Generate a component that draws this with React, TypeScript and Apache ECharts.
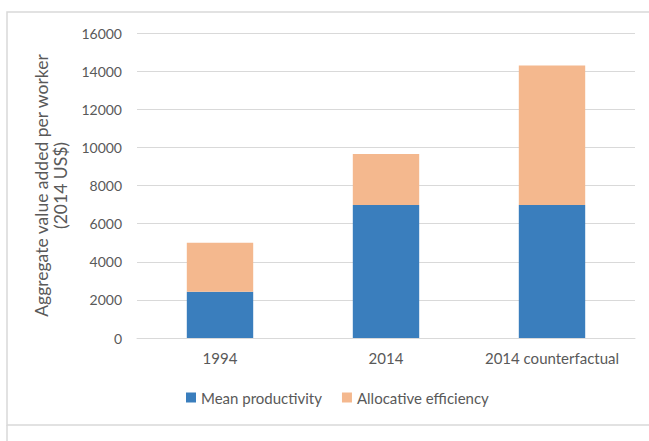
import React, { useEffect, useRef } from "react";
import * as echarts from "echarts";

const categories = ["1994", "2014", "2014 counterfactual"];
const meanProductivity = [2430, 6980, 6980];
const allocativeEfficiency = [2570, 2670, 7320];
const yTicks = { min: 0, max: 16000, interval: 2000 };

const FONT = "Lato, 'Open Sans', sans-serif";
const TXT = "#595959";

export default function App() {
  const ref = useRef<HTMLDivElement>(null);
  useEffect(() => {
    const chart = echarts.init(ref.current!, undefined, { renderer: "svg" });
    chart.setOption({
      animation: false,
      backgroundColor: "#ffffff",
      textStyle: { fontFamily: FONT },
      graphic: [
        {
          type: "rect",
          shape: { x: 7, y: 12, width: 700, height: 413 },
          style: { fill: "none", stroke: "#d9d9d9", lineWidth: 1.5 },
          silent: true,
        },
        {
          type: "line",
          shape: { x1: 7, y1: 425, x2: 7, y2: 441 },
          style: { stroke: "#d9d9d9", lineWidth: 1.5 },
          silent: true,
        },
      ],
      grid: { left: 137, right: 14, top: 33, bottom: 103, containLabel: false },
      legend: {
        data: ["Mean productivity", "Allocative efficiency"],
        left: 181,
        top: 385,
        itemWidth: 10,
        itemHeight: 10,
        itemGap: 20,
        icon: "rect",
        textStyle: { color: TXT, fontSize: 15, fontFamily: FONT },
      },
      xAxis: {
        type: "category",
        data: categories,
        axisLine: { lineStyle: { color: "#d9d9d9" } },
        axisTick: { show: false },
        axisLabel: { color: TXT, fontSize: 15, margin: 12, fontFamily: FONT, interval: 0 },
      },
      yAxis: {
        type: "value",
        min: yTicks.min,
        max: yTicks.max,
        interval: yTicks.interval,
        name: "Aggregate value added per worker\n(2014 US$)",
        nameLocation: "middle",
        nameGap: 67,
        nameTextStyle: { color: TXT, fontSize: 17.5, lineHeight: 19, fontFamily: FONT },
        axisLine: { show: false },
        axisTick: { show: false },
        axisLabel: {
          color: TXT,
          fontSize: 14,
          margin: 15,
          fontFamily: FONT,
          formatter: (v: number) => String(v),
        },
        splitLine: { lineStyle: { color: "#d9d9d9", width: 1 } },
      },
      series: [
        {
          name: "Mean productivity",
          type: "bar",
          stack: "total",
          data: meanProductivity,
          barWidth: "40%",
          itemStyle: { color: "#3a7ebd" },
        },
        {
          name: "Allocative efficiency",
          type: "bar",
          stack: "total",
          data: allocativeEfficiency,
          barWidth: "40%",
          itemStyle: { color: "#f4b88e" },
        },
      ],
    });
    return () => chart.dispose();
  }, []);
  return (
    <div
      ref={ref}
      style={{ position: "fixed", left: 0, top: 0, width: 649, height: 441 }}
    />
  );
}
